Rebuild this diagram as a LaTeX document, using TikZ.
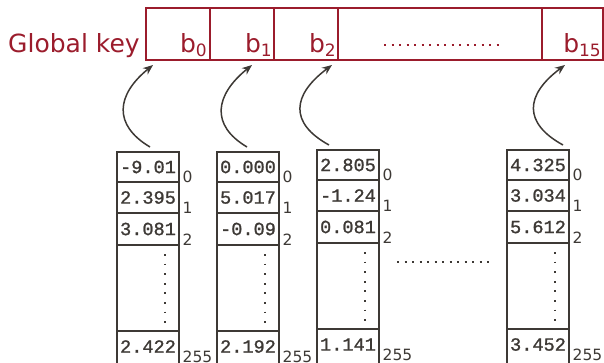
\documentclass[tikz,border=0pt]{standalone}
\usepackage{fontspec}
\setmainfont{DejaVu Sans}
\newfontfamily\cellfont{Liberation Mono}[FakeBold=1.2]
\usetikzlibrary{arrows.meta}
\definecolor{keyred}{HTML}{9B1C2C}
\definecolor{ink}{HTML}{3D3935}

\newcommand{\keylab}[2]{b\raisebox{-4.5pt}{\fontsize{17}{17}\selectfont #2}}

\begin{document}
\begin{tikzpicture}[x=1pt,y=-1pt,
  keybox/.style={draw=keyred,line width=1.8pt,minimum height=52pt,inner sep=0pt,outer sep=0pt,anchor=north west},
  keytext/.style={text=keyred,font=\fontsize{25}{25}\selectfont,inner sep=0pt,anchor=base east},
  cell/.style={draw=ink,line width=1.8pt,minimum width=62pt,inner sep=0pt,outer sep=0pt,anchor=north west},
  celltext/.style={text=ink,inner sep=0pt,font=\cellfont\fontsize{18.6}{18.6}\selectfont},
  idx/.style={text=ink,font=\fontsize{15.5}{15.5}\selectfont,inner sep=0pt,anchor=base west},
  arr/.style={draw=ink,line width=1.5pt,-{Stealth[length=10pt,width=8pt]}},
  vdots/.style={draw=ink,line width=2pt,dash pattern=on 1.8pt off 7.8pt},
  hdots/.style={line width=2pt,dash pattern=on 2pt off 5.5pt}
]
\useasboundingbox (0,0) rectangle (604,362);

% global key
\node[text=keyred,font=\fontsize{25}{25}\selectfont,inner sep=0pt,anchor=base west] (gk) at (8,52) {Global key};
\node[keybox,minimum width=64pt] (k0) at (146,8) {};
\node[keybox,minimum width=64pt] (k1) at (210,8) {};
\node[keybox,minimum width=64pt] (k2) at (274,8) {};
\node[keybox,minimum width=204pt] (kd) at (338,8) {};
\node[keybox,minimum width=61pt] (k15) at (542,8) {};
\node[keytext] (l0) at (207,52) {\keylab{b}{0}};
\node[keytext] (l1) at (272,52) {\keylab{b}{1}};
\node[keytext] (l2) at (336,52) {\keylab{b}{2}};
\node[keytext] (l15) at (601,52) {\keylab{b}{15}};
\coordinate (rd1) at (384,45);
\coordinate (rd2) at (500,45);
\draw[hdots,draw=keyred] (rd1) -- (rd2);

% one column of values
% #1 name, #2 left x, #3 top y, #4..#7 values
\newcommand{\valcol}[7]{%
  \node[cell,minimum height=30pt] (#1-0) at (#2,#3) {};
  \node[cell,minimum height=31pt] (#1-1) at (#1-0.south west) {};
  \node[cell,minimum height=32pt] (#1-2) at (#1-1.south west) {};
  \node[cell,minimum height=86pt] (#1-m) at (#1-2.south west) {};
  \node[cell,minimum height=40pt] (#1-b) at (#1-m.south west) {};
  \node[celltext] (#1-t0) at (#1-0.center) {#4};
  \node[celltext] (#1-t1) at (#1-1.center) {#5};
  \node[celltext] (#1-t2) at (#1-2.center) {#6};
  \node[celltext] (#1-tb) at ([yshift=-15.5pt]#1-b.north) {#7};
  \node[idx] (#1-i0) at ([xshift=3.5pt]#1-0.south east) {0};
  \node[idx] (#1-i1) at ([xshift=3.5pt]#1-1.south east) {1};
  \node[idx] (#1-i2) at ([xshift=3.5pt]#1-2.south east) {2};
  \node[idx] (#1-ib) at ([shift={(3.5pt,-31.5pt)}]#1-b.north east) {255};
  \draw[vdots] ([shift={(-14pt,-9pt)}]#1-m.north east) -- ([shift={(-14pt,8pt)}]#1-m.south east);
}
\valcol{c0}{117}{152}{-9.01}{2.395}{3.081}{2.422}
\valcol{c1}{217}{152}{0.000}{5.017}{-0.09}{2.192}
\valcol{c2}{317}{150}{2.805}{-1.24}{0.081}{1.141}
\valcol{c3}{507}{150}{4.325}{3.034}{5.612}{3.452}

% gap between the third and last column
\coordinate (gd1) at (397,262);
\coordinate (gd2) at (490,262);
\draw[hdots,draw=ink] (gd1) -- (gd2);

% arrows from each column to its key byte
\draw[arr] ([shift={(33pt,5pt)}]c0-0.north west) .. controls +(-37,-22) and +(-37,30) .. ([shift={(7pt,-5pt)}]k0.south west);
\draw[arr] ([shift={(30pt,5pt)}]c1-0.north west) .. controls +(-37,-22) and +(-37,30) .. ([shift={(42pt,-5pt)}]k1.south west);
\draw[arr] ([shift={(12pt,5pt)}]c2-0.north west) .. controls +(-40,-22) and +(-40,30) .. ([shift={(58pt,-5pt)}]k2.south west);
\draw[arr] ([shift={(56pt,5pt)}]c3-0.north west) .. controls +(-40,-22) and +(-40,30) .. ([shift={(23pt,-5pt)}]k15.south west);
\end{tikzpicture}
\end{document}
